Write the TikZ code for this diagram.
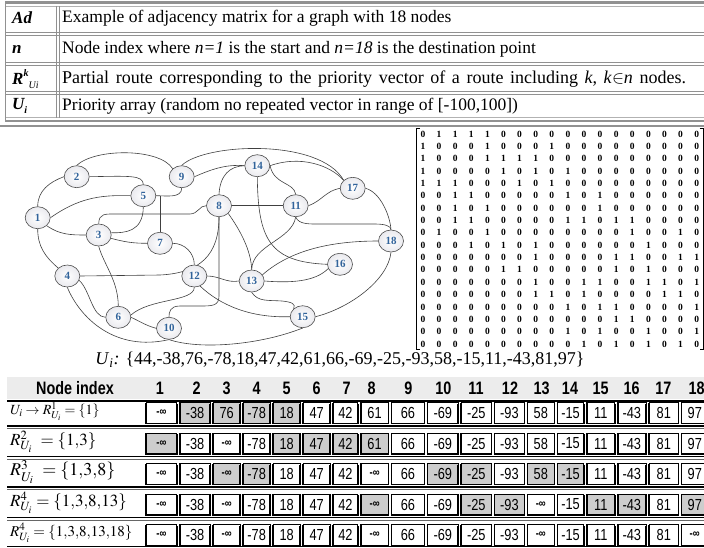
\documentclass[tikz,border=0pt]{standalone}
\usepackage{mathptmx}
\usepackage{fontspec}
\setmainfont{Liberation Serif}
\newfontfamily\narrowsans[FakeStretch=0.8]{Liberation Sans}
\usetikzlibrary{shapes.geometric}
\pgfdeclarelayer{bg}
\pgfsetlayers{bg,main}
\definecolor{nodeblue}{RGB}{50,100,155}
\definecolor{rulegray}{RGB}{145,145,145}
\definecolor{cellgray}{RGB}{205,205,205}
\definecolor{headgray}{RGB}{236,236,236}
\newcommand\ninf{{\fontsize{12}{12}\selectfont\bfseries -∞}}
\def\cellL{{146,179.8,213.2,243.2,273.2,303.2,333.2,360.7,391.5,427.3,461.2,494.5,527.3,557.3,586.8,617.7,649,681.5}}
\def\cellR{{176.8,210.2,240.2,270.2,300.2,330.2,357.7,388.5,424.3,458.2,491.5,524.3,554.3,583.8,614.7,646,678.5,708}}
\newcommand\cellrow[3]{%
  \foreach \v/\s [count=\j] in {#3} {%
    \pgfmathsetmacro\xl{\cellL[\j-1]}%
    \pgfmathsetmacro\xr{\cellR[\j-1]}%
    \ifnum\s=1 \def\fc{cellgray}\else\def\fc{white}\fi
    \draw[cellbox, fill=\fc] (\xl,#1-10.5) rectangle (\xr,#1+10.5);
    \draw[line width=1.6pt] (\xl,#1-10.5) -- (\xl,#1+10.5) -- (\xr,#1+10.5) -- (\xr,#1-9.5);
    \node[cellnum] (c-#2-\j) at ({(\xl+\xr)/2},#1) {\v};
  }%
}
\tikzset{
  gn/.style={ellipse, draw=black!70, line width=0.6pt, minimum width=25pt, minimum height=22pt,
    inner sep=0pt, inner color=white, outer color=blue!12!gray!15,
    font=\fontsize{11}{11}\selectfont\bfseries, text=nodeblue},
  edge/.style={draw=black!75, line width=0.6pt},
  matnum/.style={inner sep=0pt, font=\fontsize{9.5}{9.5}\selectfont\bfseries},
  cellbox/.style={draw=black, line width=0.8pt},
  cellnum/.style={inner sep=0pt, font=\narrowsans\fontsize{16}{16}\selectfont},
  headnum/.style={inner sep=0pt, font=\narrowsans\fontsize{18}{18}\selectfont\bfseries},
  tabtxt/.style={anchor=west, inner sep=0pt, font=\fontsize{17.5}{19}\selectfont},
  tablab/.style={anchor=west, inner sep=0pt, font=\fontsize{17}{18}\selectfont\bfseries\itshape},
  rowlab/.style={anchor=west, inner sep=0pt},
}
\begin{document}
\begin{tikzpicture}[x=1pt,y=-1pt]
\useasboundingbox (0,0) rectangle (704,547);
% ---------------- top table ----------------
\draw[rulegray, line width=2.2pt] (5,2.5) -- (704,2.5);
\draw[rulegray!70, line width=0.6pt] (5,6) -- (704,6);
\foreach \yy in {33.5,63.5,92.5} {
  \draw[rulegray, line width=0.5pt] (5,\yy-1.3) -- (704,\yy-1.3);
  \draw[rulegray, line width=0.5pt] (5,\yy+1.3) -- (704,\yy+1.3);
}
\draw[rulegray!70, line width=0.6pt] (5,117.5) -- (704,117.5);
\draw[rulegray, line width=2.2pt] (5,121) -- (704,121);
\draw[rulegray, line width=0.8pt] (5,2.5) -- (5,121);
\draw[rulegray, line width=0.5pt] (56,6) -- (56,117.5);
\draw[rulegray, line width=0.5pt] (59,6) -- (59,117.5);
\node[tablab] (l1) at (12,18) {Ad};
\node[tablab] (l2) at (12,49) {n};
\node[tablab] (l3) at (12,79) {R\raisebox{0.45em}{\fontsize{10}{10}\selectfont k}\raisebox{-0.25em}{\fontsize{10}{10}\selectfont\mdseries Ui}};
\node[tablab] (l4) at (12,106) {U\raisebox{-0.25em}{\fontsize{10}{10}\selectfont i}};
\node[tabtxt] (t1) at (62,18) {Example of adjacency matrix for a graph with 18 nodes};
\node[tabtxt] (t2) at (62,49) {Node index where \textit{n=1} is the start and \textit{n=18} is the destination point};
\node[tabtxt, font=\fontsize{18}{19}\selectfont] (t3) at (62,79) {\spaceskip=6.6pt Partial route corresponding to the priority vector of a route including \textit{k}, \textit{k}$\in$\textit{n} nodes.};
\node[tabtxt] (t4) at (62,106) {Priority array (random no repeated vector in range of [-100,100])};
\draw[rulegray, line width=1.2pt] (0,126) -- (704,126);
% ---------------- graph ----------------
\node[gn] (n1) at (37.7,217.7) {1};
\node[gn] (n2) at (76.7,176.7) {2};
\node[gn] (n3) at (98.7,235) {3};
\node[gn] (n4) at (67.3,276) {4};
\node[gn] (n5) at (143.3,195.7) {5};
\node[gn] (n6) at (118.3,317.3) {6};
\node[gn] (n7) at (160,243.3) {7};
\node[gn] (n8) at (219,205.7) {8};
\node[gn] (n9) at (181.7,176.7) {9};
\node[gn] (n10) at (169,328.3) {10};
\node[gn] (n11) at (295.7,205.7) {11};
\node[gn] (n12) at (194.3,276) {12};
\node[gn] (n13) at (251.7,281) {13};
\node[gn] (n14) at (257.3,165.7) {14};
\node[gn] (n15) at (302.7,316.7) {15};
\node[gn] (n16) at (340,264.3) {16};
\node[gn] (n17) at (352.7,188.3) {17};
\node[gn] (n18) at (391,241) {18};
\begin{pgfonlayer}{bg}
\draw[edge] (n1.north) to[out=90,in=200] (n2.west);
\draw[edge] (n1.east) to[out=35,in=178] (n5.west);
\draw[edge] (n1.south east) to[out=-35,in=180] (n3.west);
\draw[edge] (n1.south) to[out=-90,in=140] (n4.north west);
\draw[edge] (n2.east) .. controls (130,176) and (143,175) .. (n5.north);
\draw[edge] (n2.north) .. controls (95,148) and (160,148) .. (n9.north west);
\draw[edge] (n5.south) .. controls (143,232) and (125,233) .. (n3.10);
\draw[edge] (n3.north) .. controls (99,213) and (105,214) .. (118,214) -- (190,214) .. controls (198,214) and (200,205) .. (n8.west);
\draw[edge] (n3.-15) to[out=-15,in=180] (n7.west);
\draw[edge] (n3.south) .. controls (104,265) and (118,280) .. (n6.north);
\draw[edge] (n4.east) -- (160,275) .. controls (200,273) and (219,255) .. (n8.south);
\draw[edge] (n4.-20) .. controls (90,290) and (92,317) .. (n6.west);
\draw[edge] (n4.south) .. controls (80,318) and (115,352) .. (n10.south);
\draw[edge] (n5.east) to[out=0,in=-90] (n9.south);
\draw[edge] (n7.north) -- (n7.north |- n5.east);
\draw[edge] (n6.east) to[out=-25,in=165] (n10.west);
\draw[edge] (n6.10) .. controls (150,298) and (194,302) .. (n12.south);
\draw[edge] (n7.east) to[out=0,in=90] (n12.north);
\draw[edge] (n8.south) -- (219,296) .. controls (219,306) and (212,306) .. (200,306) -- (180,306) .. controls (170,306) and (169,312) .. (n10.north);
\draw[edge] (n8.east) -- (n11.west);
\draw[edge] (n8.-40) .. controls (240,230) and (251,250) .. (n13.north);
\draw[edge] (n8.north) .. controls (220,175) and (230,166) .. (n14.west);
\draw[edge] (n9.east) .. controls (210,170) and (225,164) .. (n14.west);
\draw[edge] (n9.north) .. controls (205,143) and (320,138) .. (n17.north west);
\draw[edge] (n10.south) .. controls (200,350) and (260,345) .. (n15.south);
\draw[edge] (n11.south) .. controls (292,240) and (252,245) .. (n13.north);
\draw[edge] (n14.east) .. controls (274,185) and (294,182) .. (n11.north);
\draw[edge] (n11.east) to[out=20,in=190] (n17.west);
\draw[edge] (n11.south) .. controls (299,225) and (310,224) .. (325,224) -- (375,224) .. controls (385,224) and (391,226) .. (n18.north);
\draw[edge] (n12.east) to[out=0,in=190] (n13.west);
\draw[edge] (n12.-60) .. controls (220,305) and (250,318) .. (n15.west);
\draw[edge] (n13.south) .. controls (258,302) and (268,300) .. (282,301) .. controls (292,302) and (296,304) .. (n15.north west);
\draw[edge] (n13.east) .. controls (290,283) and (315,282) .. (n16.200);
\draw[edge] (n18.west) .. controls (320,241) and (285,255) .. (n13.30);
\draw[edge] (n14.south) .. controls (258,240) and (270,262) .. (n16.west);
\draw[edge] (n14.east) .. controls (300,155) and (330,165) .. (n17.north west);
\draw[edge] (n15.east) .. controls (350,308) and (388,280) .. (n18.south);
\draw[edge] (n17.east) .. controls (380,192) and (390,215) .. (n18.north);
\end{pgfonlayer}
% ---------------- matrix ----------------
\draw[line width=0.6pt] (419.5,128) -- (416,128) -- (416,349) -- (419.5,349);
\draw[line width=0.6pt] (699.5,128) -- (703,128) -- (703,349) -- (699.5,349);
\foreach \row [count=\i] in {
 {0,1,1,1,1,0,0,0,0,0,0,0,0,0,0,0,0,0},
 {1,0,0,0,1,0,0,0,1,0,0,0,0,0,0,0,0,0},
 {1,0,0,0,1,1,1,1,0,0,0,0,0,0,0,0,0,0},
 {1,0,0,0,0,1,0,1,0,1,0,0,0,0,0,0,0,0},
 {1,1,1,0,0,0,1,0,1,0,0,0,0,0,0,0,0,0},
 {0,0,1,1,0,0,0,0,0,1,0,1,0,0,0,0,0,0},
 {0,0,1,0,1,0,0,0,0,0,0,1,0,0,0,0,0,0},
 {0,0,1,1,0,0,0,0,0,1,1,0,1,1,0,0,0,0},
 {0,1,0,0,1,0,0,0,0,0,0,0,0,1,0,0,1,0},
 {0,0,0,1,0,1,0,1,0,0,0,0,0,0,1,0,0,0},
 {0,0,0,0,0,0,0,1,0,0,0,0,1,1,0,0,1,1},
 {0,0,0,0,0,1,1,0,0,0,0,0,1,0,1,0,0,0},
 {0,0,0,0,0,0,0,1,0,0,1,1,0,0,1,1,0,1},
 {0,0,0,0,0,0,0,1,1,0,1,0,0,0,0,1,1,0},
 {0,0,0,0,0,0,0,0,0,1,0,1,1,0,0,0,0,1},
 {0,0,0,0,0,0,0,0,0,0,0,0,1,1,0,0,0,0},
 {0,0,0,0,0,0,0,0,0,1,0,1,0,0,1,0,0,1},
 {0,0,0,0,0,0,0,0,0,0,1,0,1,0,1,0,1,0}} {
  \foreach \v [count=\j] in \row {
    \node[matnum] (m-\i-\j) at ({423+16.1*(\j-1)},{134+12.35*(\i-1)}) {\v};
  }
}
% ---------------- priority vector ----------------
\node[inner sep=0pt, font=\fontsize{18}{20}\selectfont] (ui) at (340,360) {\textit{U}\textsubscript{\textit{i}}\textit{:} \{44,-38,76,-78,18,47,42,61,66,-69,-25,-93,58,-15,11,-43,81,97\}};
% ---------------- bottom table ----------------
\fill[headgray] (7,377) rectangle (704,399);
\node[headnum] (nodeindex) at (75,388) {Node index};
\foreach \c [count=\j] in {160,196.7,226.7,256.7,286.7,316.7,346.7,371.7,408.3,443.3,476,510,541.7,570,600.7,631.7,663.3,696.7} {
  \node[headnum] (h-\j) at (\c,388) {\j};
}
\draw[line width=2pt] (7,400.5) -- (704,400.5);
\foreach \yy in {426,456.5,487,517.5} {
  \draw[line width=1.6pt] (7,\yy) -- (704,\yy);
  \draw[black!60, line width=0.5pt] (7,\yy+2.6) -- (704,\yy+2.6);
}
\draw[line width=1.4pt] (7,546.5) -- (704,546.5);
\node[rowlab, font=\fontsize{14}{14}\selectfont] (r1) at (10,411.5) {$U_i \rightarrow R^{1}_{U_i} = \{1\}$};
\node[rowlab, font=\fontsize{17}{17}\selectfont] (r2) at (10,441.5) {$R^{2}_{U_i}\ = \{1{,}3\}$};
\node[rowlab, font=\fontsize{18}{18}\selectfont] (r3) at (10,472) {$R^{3}_{U_i}\ = \{1{,}3{,}8\}$};
\node[rowlab, font=\fontsize{17}{17}\selectfont] (r4) at (10,502.5) {$R^{4}_{U_i} = \{1{,}3{,}8{,}13\}$};
\node[rowlab, font=\fontsize{15}{15}\selectfont] (r5) at (10,533) {$R^{4}_{U_i} = \{1{,}3{,}8{,}13{,}18\}$};
\cellrow{413}{1}{\ninf/0,-38/1,76/1,-78/1,18/1,47/0,42/0,61/0,66/0,-69/0,-25/0,-93/0,58/0,-15/0,11/0,-43/0,81/0,97/0}
\cellrow{443.5}{2}{\ninf/1,-38/0,\ninf/0,-78/0,18/1,47/1,42/1,61/1,66/0,-69/0,-25/0,-93/0,58/0,-15/0,11/0,-43/0,81/0,97/0}
\cellrow{474}{3}{\ninf/0,-38/0,\ninf/1,-78/1,18/0,47/0,42/0,\ninf/0,66/0,-69/1,-25/1,-93/0,58/1,-15/1,11/0,-43/0,81/0,97/0}
\cellrow{504.5}{4}{\ninf/0,-38/0,\ninf/0,-78/0,18/0,47/0,42/0,\ninf/1,66/0,-69/0,-25/1,-93/1,\ninf/0,-15/0,11/1,-43/1,81/0,97/1}
\cellrow{535}{5}{\ninf/0,-38/0,\ninf/0,-78/0,18/0,47/0,42/0,\ninf/0,66/0,-69/0,-25/0,-93/0,\ninf/0,-15/0,11/0,-43/0,81/0,\ninf/0}
\end{tikzpicture}
\end{document}
